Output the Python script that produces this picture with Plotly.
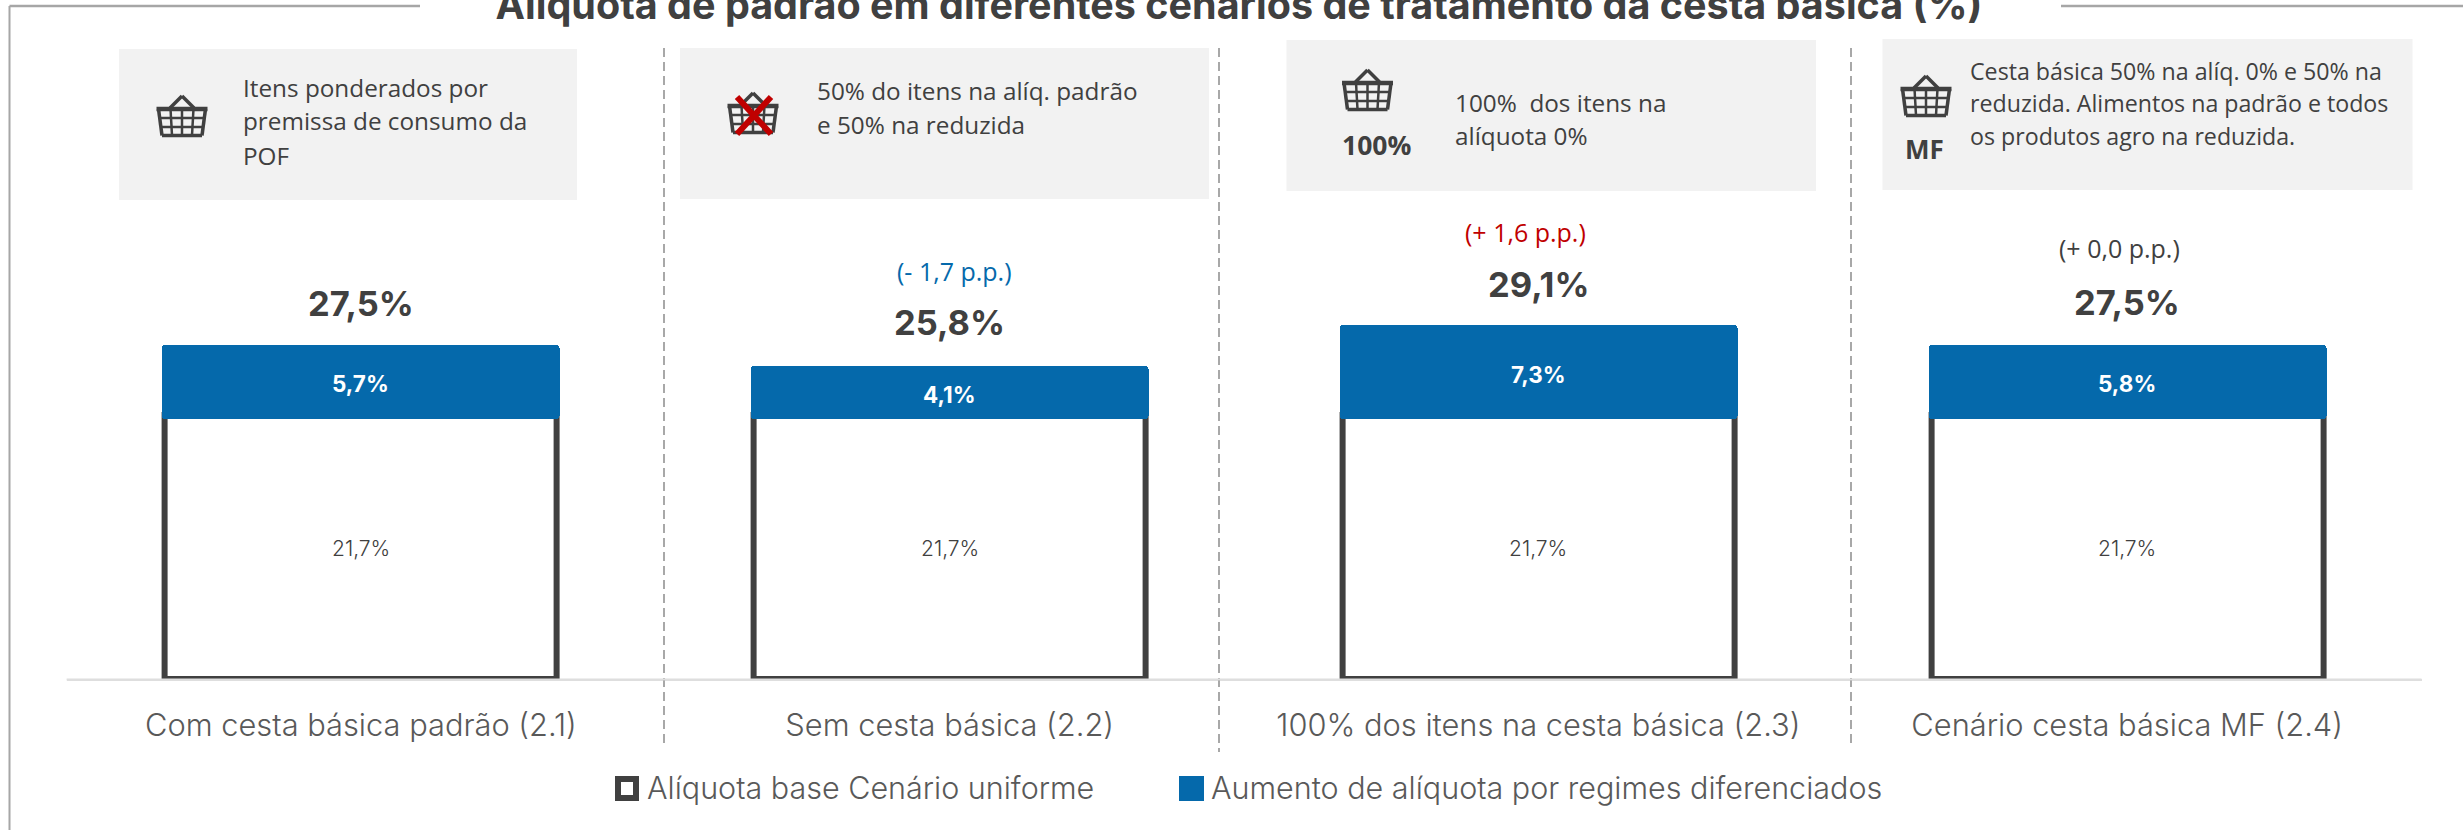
import plotly.graph_objects as go

# ---------- data ----------
categories = ["Com cesta básica padrão (2.1)", "Sem cesta básica (2.2)",
              "100% dos itens na cesta básica (2.3)", "Cenário cesta básica MF (2.4)"]
base_values = [21.7, 21.7, 21.7, 21.7]
increase_start = [21.4, 21.4, 21.4, 21.4]
totals = [27.5, 25.8, 29.1, 27.5]
increase_labels = ["5,7%", "4,1%", "7,3%", "5,8%"]
base_labels = ["21,7%", "21,7%", "21,7%", "21,7%"]
total_labels = ["27,5%", "25,8%", "29,1%", "27,5%"]
delta_labels = [None, "(- 1,7 p.p.)", "(+ 1,6 p.p.)", "(+ 0,0 p.p.)"]
title_text = "Alíquota de padrão em diferentes cenários de tratamento da cesta básica (%)"
legend_labels = ["Alíquota base Cenário uniforme", "Aumento de alíquota por regimes diferenciados"]
box_texts = [
    ["Itens ponderados por", "premissa de consumo da", "POF"],
    ["50% do itens na alíq. padrão", "e 50% na reduzida"],
    ["100%  dos itens na", "alíquota 0%"],
    ["Cesta básica 50% na alíq. 0% e 50% na", "reduzida. Alimentos na padrão e todos",
     "os produtos agro na reduzida."],
]

# ---------- style / layout constants ----------
W, H = 2463, 830
DARK, BLUE, RED, GREY = "#404040", "#0569AB", "#C00000", "#595959"
HEAD = "Inter"
BODY = "Open Sans"
ZERO_Y = 679
PX_PER_UNIT = 12.15
PLOT_L, PLOT_R = 66.6, 2421.5
BAND = (PLOT_R - PLOT_L) / 4


def px(x):
    return x / W


def py(y):
    return 1 - y / H


blue_heights = [t - s for t, s in zip(totals, increase_start)]

fig = go.Figure()
fig.add_bar(x=categories, y=base_values, width=392 / BAND,
            marker=dict(color="white", line=dict(color=DARK, width=6)),
            cliponaxis=False, showlegend=False, name=legend_labels[0])
fig.add_bar(x=categories, y=blue_heights, base=increase_start, width=398 / BAND,
            marker=dict(color=BLUE, line=dict(width=0), cornerradius=4),
            cliponaxis=False, showlegend=False, name=legend_labels[1])

shapes = []
annotations = []


def text(x, y, s, size, color=DARK, family=BODY, weight=400, anchor="left"):
    annotations.append(dict(xref="paper", yref="paper", x=px(x), y=py(y), text=s, showarrow=False,
                            xanchor=anchor, yanchor="middle", borderpad=0,
                            font=dict(family=family, size=size, color=color, weight=weight)))


def line(x0, y0, x1, y1, color, width, dash=None):
    shapes.append(dict(type="line", xref="paper", yref="paper", x0=px(x0), y0=py(y0), x1=px(x1), y1=py(y1),
                       line=dict(color=color, width=width, dash=dash)))


def rect(x0, y0, x1, y1, fill, lc=None, lw=0):
    shapes.append(dict(type="rect", xref="paper", yref="paper", x0=px(x0), y0=py(y0), x1=px(x1), y1=py(y1),
                       fillcolor=fill, line=dict(color=lc or fill, width=lw), layer="below"))


def basket(cx, top):
    segs = [
        [(-12, 13), (0, 1), (12, 13)],
        [(-23.5, 14), (-20, 40.5), (20, 40.5), (23.5, 14)],
        [(-11.5, 14), (-10, 40)], [(0, 14), (0, 40)], [(11.5, 14), (10, 40)],
        [(-22, 23), (22, 23)], [(-21, 32), (21, 32)],
    ]
    for seg in segs:
        for (a, b), (c, d) in zip(seg[:-1], seg[1:]):
            wd = 3.5 if seg is segs[0] or seg is segs[1] else 2.5
            line(cx + a, top + b, cx + c, top + d, DARK, wd)
    line(cx - 25.5, top + 14, cx + 25.5, top + 14, DARK, 4.5)


# frame
line(9.5, 6, 420, 6, "#A6A6A6", 2.5)
line(9.5, 6, 9.5, 830, "#A6A6A6", 2)
line(2061, 6, 2463, 6, "#A6A6A6", 2.5)

# info boxes
for b in [(119, 49, 577, 200), (680, 48, 1209, 199), (1286.5, 40, 1816, 191), (1882.5, 39, 2412.5, 190)]:
    rect(*b, "#F2F2F2")

# separators
for x, y1 in [(664, 746), (1219, 752), (1851, 743)]:
    line(x, 48, x, y1, "#6F6F6F", 1.2, "9px,5px")

# light axis strip running across the base of the bars
line(PLOT_L, 679.6, PLOT_R, 679.6, "#DEDEDE", 2)

# icons
basket(182, 95)
basket(753, 92)
basket(1367.5, 69)
basket(1926, 75)
line(737, 97, 771, 134, RED, 6)
line(771, 97, 737, 134, RED, 6)
text(1376, 145, "100%", 26.5, DARK, BODY, 700, "center")
text(1924, 149, "MF", 26, DARK, BODY, 700, "center")

# box text
box_x = [242, 816, 1454, 1969]
box_y = [[88, 121, 155], [91, 125], [103, 136], [71, 103, 136]]
box_size = [24.3, 24.3, 24.3, 23.2]
for tx, ty, lines, sz in zip(box_x, box_y, box_texts, box_size):
    for yy, s in zip(ty, lines):
        text(tx, yy, s, sz)

# labels, totals and deltas, anchored to the data
total_shift = [41, 43, 41, 42]
delta_shift = [0, 95, 93, 97]
delta_xshift = [0, 5, -13, -8]
delta_color = [DARK, BLUE, RED, DARK]
for c, b, t, s, lab, blab, ilab, d, ts, ds, dx, dc in zip(categories, base_values, totals, increase_start,
                                                          total_labels, base_labels, increase_labels, delta_labels,
                                                          total_shift, delta_shift, delta_xshift, delta_color):
    annotations.append(dict(x=c, y=t, xref="x", yref="y", text=lab, showarrow=False, yshift=ts,
                            yanchor="middle", font=dict(family=HEAD, size=34.5, color=DARK, weight=700)))
    annotations.append(dict(x=c, y=b / 2, xref="x", yref="y", text=blab, showarrow=False, yshift=-1,
                            yanchor="middle", font=dict(family=HEAD, size=21, color=DARK, weight=300)))
    annotations.append(dict(x=c, y=(s + t) / 2, xref="x", yref="y", text=ilab, showarrow=False, yshift=-2,
                            yanchor="middle", font=dict(family=HEAD, size=22.5, color="white", weight=700)))
    if d:
        annotations.append(dict(x=c, y=t, xref="x", yref="y", text=d, showarrow=False, yshift=ds, xshift=dx,
                                yanchor="middle", font=dict(family=BODY, size=25, color=dc)))

# legend
shapes.append(dict(type="rect", xref="paper", yref="paper", x0=px(618), y0=py(779), x1=px(636), y1=py(798),
                   fillcolor="white", line=dict(color=DARK, width=6)))
shapes.append(dict(type="rect", xref="paper", yref="paper", x0=px(1179), y0=py(776), x1=px(1204), y1=py(801),
                   fillcolor=BLUE, line=dict(width=0)))
text(646, 787, legend_labels[0], 30.5, GREY, HEAD, 300)
text(1210, 787, legend_labels[1], 30.5, GREY, HEAD, 300)

fig.update_layout(
    width=W, height=H, autosize=False, margin=dict(l=0, r=0, t=0, b=0),
    paper_bgcolor="white", plot_bgcolor="rgba(0,0,0,0)",
    barmode="overlay", bargap=0,
    title=dict(text=title_text, x=px(1239), y=py(5), xanchor="center", yanchor="middle",
               font=dict(family=HEAD, size=39.5, color=DARK, weight=700)),
    xaxis=dict(domain=[px(PLOT_L), px(PLOT_R)], type="category", range=[-0.5, 3.5], categoryorder="array",
               categoryarray=categories, showline=True, linecolor="#DEDEDE", linewidth=2, showgrid=False,
               zeroline=False, ticks="outside", ticklen=18, tickcolor="rgba(0,0,0,0)",
               tickfont=dict(family=HEAD, size=30.8, color=GREY, weight=300)),
    yaxis=dict(domain=[py(ZERO_Y), 1], range=[0, ZERO_Y / PX_PER_UNIT], visible=False),
    shapes=shapes, annotations=annotations, showlegend=False,
)

fig.write_html("out.html", config={"displayModeBar": False},
               post_script="document.body.style.margin='0';document.body.style.overflow='hidden';")
